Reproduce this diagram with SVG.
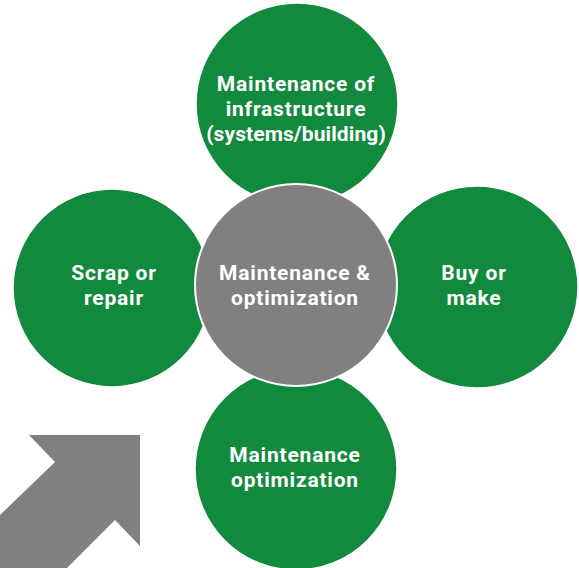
<svg xmlns="http://www.w3.org/2000/svg" width="579" height="568" viewBox="0 0 579 568">
<style>
.g{fill:#128a3d;stroke:#ffffff;stroke-width:1.5}
.c{fill:#808080;stroke:#ffffff;stroke-width:2}
.t{font-family:Roboto,"Open Sans","DejaVu Sans",sans-serif;font-weight:bold;font-size:21px;letter-spacing:0.8px;fill:#ffffff;text-anchor:middle}
</style>
<rect width="579" height="568" fill="#ffffff"/>
<g id="arrow"><polygon points="29,435 140,435 140,546 115,520 67,568 0,568 0,515 55,462" fill="#808080"/></g>
<g id="top"><circle class="g" cx="297" cy="104" r="101"/><text class="t" x="296" y="91">Maintenance of</text><text class="t" x="296" y="116">infrastructure</text><text class="t" x="296" y="141" style="letter-spacing:0.1px">(systems/building)</text></g>
<g id="left"><circle class="g" cx="112" cy="288" r="99"/><text class="t" x="114" y="280">Scrap or</text><text class="t" x="114" y="305">repair</text></g>
<g id="right"><circle class="g" cx="477" cy="287" r="101"/><text class="t" x="474" y="280">Buy or</text><text class="t" x="474" y="305">make</text></g>
<g id="bottom"><circle class="g" cx="296" cy="469" r="101"/><text class="t" x="295" y="462">Maintenance</text><text class="t" x="295" y="487">optimization</text></g>
<g id="center"><circle class="c" cx="296" cy="285" r="101"/><text class="t" x="295" y="280">Maintenance &amp;</text><text class="t" x="295" y="305">optimization</text></g>
<g id="connectors"/>
</svg>
